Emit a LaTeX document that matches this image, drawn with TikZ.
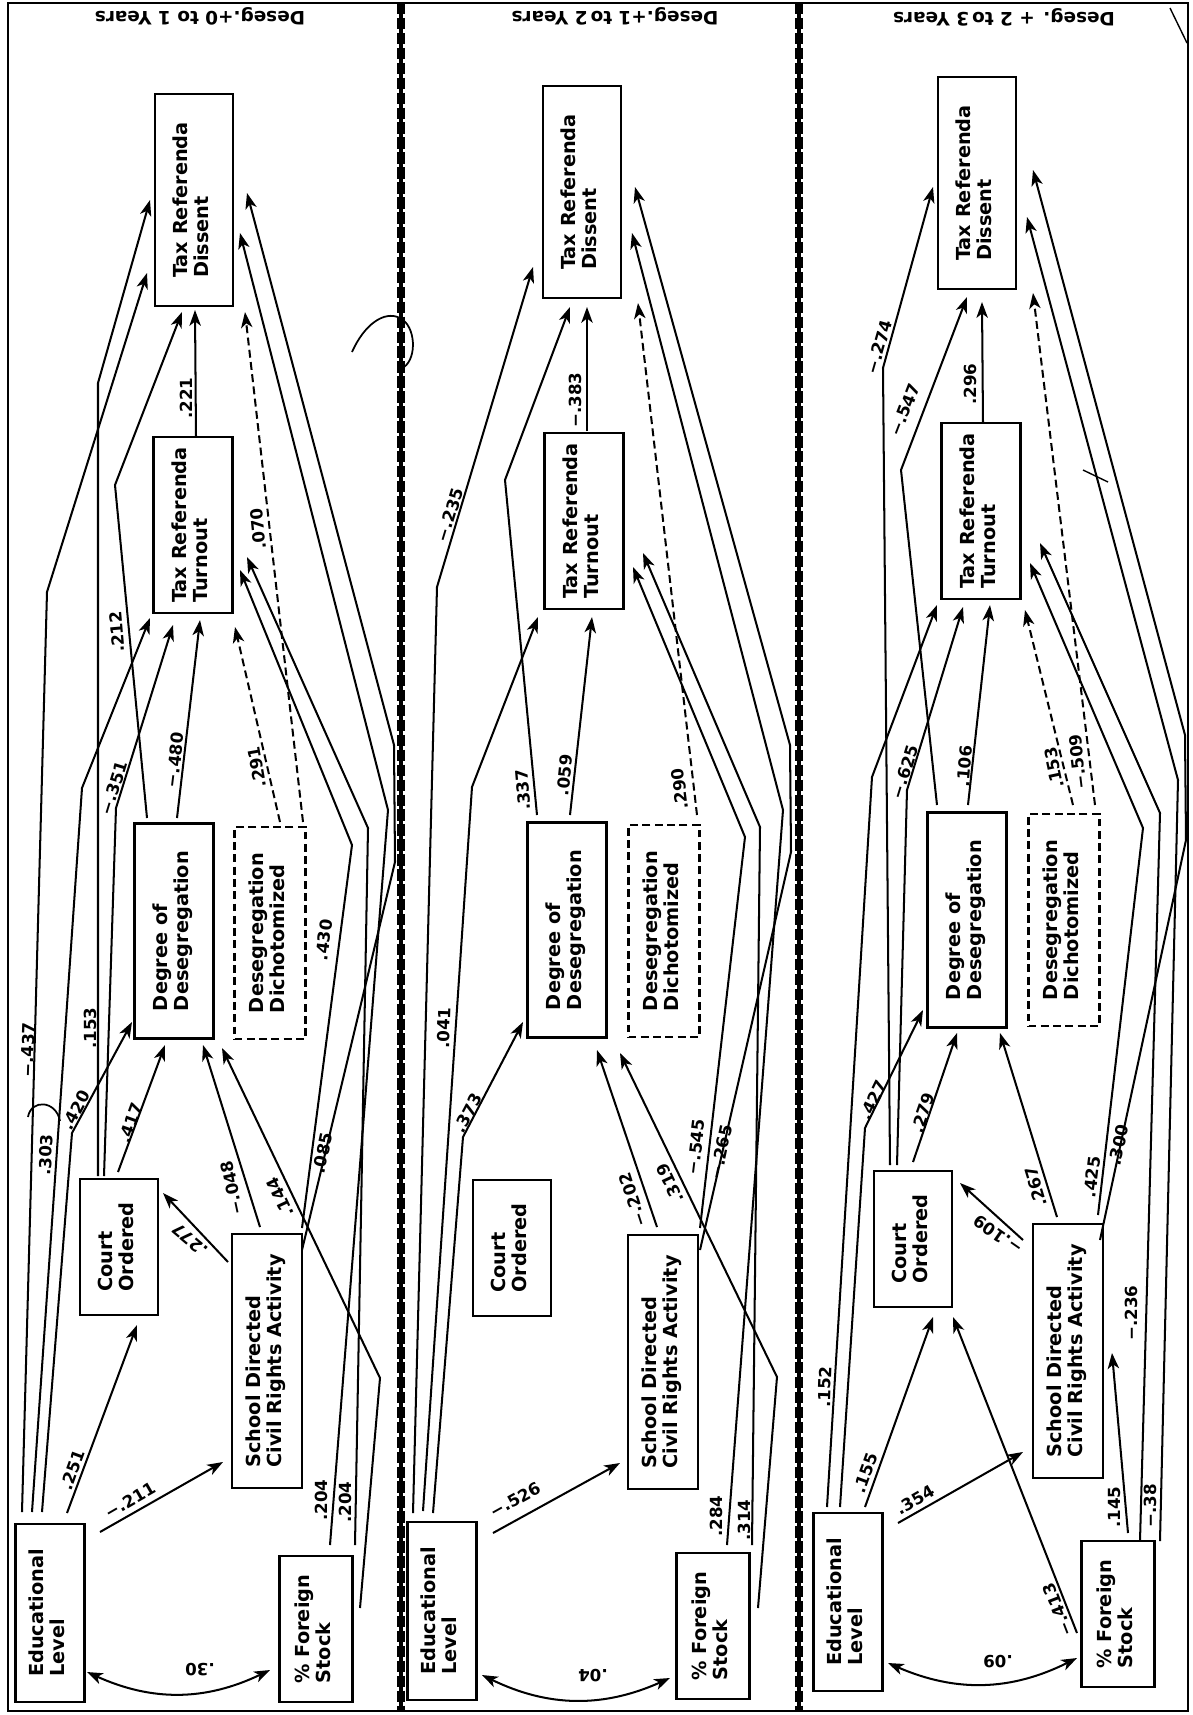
\documentclass[tikz,border=0pt]{standalone}
\usepackage{fontspec}
\setmainfont{DejaVu Sans}
\usepackage{graphicx}
\usepackage{tikz}
\usetikzlibrary{arrows.meta,calc}

\newcommand{\vtext}[1]{\rotatebox{90}{\begin{tabular}{@{}l@{}}#1\end{tabular}}}

\begin{document}
\begin{tikzpicture}[x=0.02cm, y=-0.02cm,
  box/.style={draw, line width=1.5pt, inner sep=0pt, font=\bfseries\fontsize{11}{12}\selectfont},
  dbox/.style={box, line width=1.2pt, dash pattern=on 4.5pt off 2.5pt},
  dissbox/.style={box, minimum width=1.56cm, minimum height=4.24cm},
  turnbox/.style={box, minimum width=1.58cm, minimum height=3.52cm},
  degbox/.style={box, minimum width=1.58cm, minimum height=4.3cm},
  dichbox/.style={dbox, minimum width=1.42cm, minimum height=4.24cm},
  courtbox/.style={box, minimum width=1.56cm, minimum height=2.72cm},
  schbox/.style={box, minimum width=1.4cm, minimum height=5.08cm},
  edubox/.style={box, minimum width=1.38cm, minimum height=3.56cm},
  fsbox/.style={box, minimum width=1.46cm, minimum height=2.92cm},
  arr/.style={-{Stealth[length=9pt,width=6.5pt,inset=2.5pt]}, line width=1.15pt},
  darr/.style={arr, dash pattern=on 4.5pt off 2.5pt},
  corr/.style={{Stealth[length=9pt,width=6.5pt,inset=2.5pt]}-{Stealth[length=9pt,width=6.5pt,inset=2.5pt]}, line width=1.15pt},
  coef/.style={font=\bfseries\fontsize{9.5}{11}\selectfont, inner sep=0.3pt},
  ttl/.style={font=\bfseries\fontsize{10.5}{12}\selectfont, rotate=180, inner sep=0pt},
  film/.style={line width=5pt, dash pattern=on 6.5pt off 2pt},
  panelframe/.style={line width=1pt}
]
\useasboundingbox (0,0) rectangle (1193,1715);
\draw[panelframe] (8,3) rectangle (1188,1711);
\draw[line width=2pt] (401,3) -- (401,1711);
\draw[film] (401,3) -- (401,1711);
\draw[line width=2pt] (799,3) -- (799,1711);
\draw[film] (799,3) -- (799,1711);

\node[ttl] (t1) at (200,16) {Deseg.+0 to 1 Years};
\node[ttl] (t2) at (615,16) {Deseg.+1 to\,2 Years};
\node[ttl] (t3) at (1004,17) {Deseg. + 2 to\,3 Years};

\node[dissbox] (dis1) at (194,200) {\vtext{Tax Referenda\\Dissent}};
\node[turnbox] (tur1) at (193,525) {\vtext{Tax Referenda\\Turnout}};
\node[degbox] (deg1) at (174,931) {\vtext{Degree of\\Desegregation}};
\node[dichbox] (dic1) at (270,933) {\vtext{Desegregation\\Dichotomized}};
\node[courtbox] (crt1) at (119,1247) {\vtext{Court\\Ordered}};
\node[schbox] (sch1) at (267,1361) {\vtext{School Directed\\Civil Rights Activity}};
\node[edubox] (edu1) at (50,1613) {\vtext{Educational\\Level}};
\node[fsbox] (frn1) at (316,1629) {\vtext{\% Foreign\\Stock}};

\draw[arr] ($(edu1)+(17,-100)$) -- ($(crt1)+(18,78)$);
\draw[arr] ($(edu1)+(50,-81)$) -- ($(sch1)+(-44,101)$);
\draw[corr] ($(edu1)+(37,59)$) to[bend right=25] ($(frn1)+(-46,41)$);
\draw[arr] ($(sch1)+(-39,-99)$) -- ($(crt1)+(44,-54)$);
\draw[arr] ($(sch1)+(-7,-134)$) -- ($(deg1)+(29,114)$);
\draw[arr] ($(crt1)+(-1,-75)$) -- ($(deg1)+(-9,114)$);
\draw[arr] ($(edu1)+(-8,-101)$) -- (72,1133) -- ($(deg1)+(-42,91)$);
\draw[arr] ($(edu1)+(-18,-101)$) -- (82,788) -- ($(tur1)+(-43,93)$);
\draw[arr] ($(edu1)+(-28,-101)$) -- (47,592) -- ($(dis1)+(-47,73)$);
\draw[arr] ($(crt1)+(-21,-71)$) -- (98,383) -- ($(dis1)+(-44,0)$);
\draw[arr] ($(crt1)+(-15,-71)$) -- (116,808) -- ($(tur1)+(-20,100)$);
\draw[arr] ($(deg1)+(3,-113)$) -- ($(tur1)+(7,95)$);
\draw[arr] ($(deg1)+(-27,-113)$) -- (115,485) -- ($(dis1)+(-12,112)$);
\draw[arr] ($(tur1)+(3,-88)$) -- ($(dis1)+(1,110)$);
\draw[darr] ($(dic1)+(10,-111)$) -- ($(tur1)+(42,102)$);
\draw[darr] ($(dic1)+(33,-111)$) -- ($(dis1)+(51,112)$);
\draw[arr] ($(sch1)+(35,-133)$) -- (352,845) -- ($(tur1)+(47,45)$);
\draw[arr] ($(frn1)+(39,-84)$) -- (368,828) -- ($(tur1)+(54,32)$);
\draw[arr] ($(frn1)+(14,-84)$) -- (388,810) -- ($(dis1)+(46,33)$);
\draw[arr] ($(sch1)+(35,-111)$) -- (395,862) -- (394,745) -- ($(dis1)+(53,-7)$);
\draw[arr] ($(frn1)+(44,-21)$) -- (380,1378) -- ($(deg1)+(48,117)$);

\node[coef, rotate=90] (p1a) at (186,398) {.221};
\node[coef, rotate=83] (p1b) at (175,760) {−.480};
\node[coef, rotate=100] (p1c) at (257,767) {.291};
\node[coef, rotate=96] (p1d) at (258,529) {.070};
\node[coef, rotate=73] (p1e) at (114,788) {−.351};
\node[coef, rotate=95] (p1f) at (117,632) {.212};
\node[coef, rotate=88] (p1g) at (28,1050) {−.437};
\node[coef, rotate=90] (p1h) at (90,1028) {.153};
\node[coef, rotate=87] (p1i) at (46,1155) {.303};
\node[coef, rotate=62] (p1j) at (76,1110) {.420};
\node[coef, rotate=70] (p1k) at (131,1123) {.417};
\node[coef, rotate=102] (p1l) at (232,1188) {−.048};
\node[coef, rotate=115] (p1m) at (280,1197) {.144};
\node[coef, rotate=83] (p1n) at (324,940) {.430};
\node[coef, rotate=78] (p1o) at (323,1153) {.085};
\node[coef, rotate=140] (p1p) at (190,1240) {.277};
\node[coef, rotate=70] (p1q) at (73,1470) {.251};
\node[coef, rotate=30] (p1r) at (130,1500) {−.211};
\node[coef, rotate=180] (p1s) at (200,1670) {.30};
\node[coef, rotate=90] (p1t) at (321,1500) {.204};
\node[coef, rotate=90] (p1u) at (345,1502) {.204};

\node[dissbox] (dis2) at (582,192) {\vtext{Tax Referenda\\Dissent}};
\node[turnbox] (tur2) at (584,521) {\vtext{Tax Referenda\\Turnout}};
\node[degbox] (deg2) at (567,930) {\vtext{Degree of\\Desegregation}};
\node[dichbox] (dic2) at (664,931) {\vtext{Desegregation\\Dichotomized}};
\node[courtbox] (crt2) at (512,1248) {\vtext{Court\\Ordered}};
\node[schbox] (sch2) at (663,1362) {\vtext{School Directed\\Civil Rights Activity}};
\node[edubox] (edu2) at (442,1611) {\vtext{Educational\\Level}};
\node[fsbox] (frn2) at (713,1626) {\vtext{\% Foreign\\Stock}};

\draw[arr] ($(tur2)+(3,-90)$) -- ($(dis2)+(5,115)$);
\draw[arr] ($(edu2)+(-29,-98)$) -- (437,587) -- ($(dis2)+(-49,75)$);
\draw[arr] ($(edu2)+(-19,-100)$) -- (472,787) -- ($(tur2)+(-46,96)$);
\draw[arr] ($(edu2)+(-9,-98)$) -- (463,1137) -- ($(deg2)+(-44,92)$);
\draw[arr] ($(deg2)+(-30,-115)$) -- (505,480) -- ($(dis2)+(-12,115)$);
\draw[arr] ($(deg2)+(3,-115)$) -- ($(tur2)+(8,96)$);
\draw[darr] ($(dic2)+(33,-116)$) -- ($(dis2)+(56,111)$);
\draw[arr] ($(sch2)+(-6,-135)$) -- ($(deg2)+(30,120)$);
\draw[arr] ($(frn2)+(45,-18)$) -- (777,1377) -- ($(deg2)+(53,123)$);
\draw[arr] ($(sch2)+(37,-134)$) -- (745,837) -- ($(tur2)+(49,46)$);
\draw[arr] ($(sch2)+(37,-112)$) -- (791,852) -- (790,745) -- ($(dis2)+(53,-5)$);
\draw[arr] ($(frn2)+(39,-81)$) -- (760,827) -- ($(tur2)+(59,32)$);
\draw[arr] ($(frn2)+(14,-81)$) -- (783,810) -- ($(dis2)+(50,41)$);
\draw[arr] ($(edu2)+(51,-78)$) -- ($(sch2)+(-43,101)$);
\draw[corr] ($(edu2)+(40,64)$) to[bend right=25] ($(frn2)+(-43,52)$);

\node[coef, rotate=90] (p2a) at (575,400) {−.383};
\node[coef, rotate=73] (p2b) at (450,515) {−.235};
\node[coef, rotate=88] (p2c) at (444,1028) {.041};
\node[coef, rotate=62] (p2d) at (468,1113) {.373};
\node[coef, rotate=95] (p2e) at (523,790) {.337};
\node[coef, rotate=84] (p2f) at (565,775) {.059};
\node[coef, rotate=97] (p2g) at (680,789) {.290};
\node[coef, rotate=108] (p2h) at (633,1200) {−.202};
\node[coef, rotate=115] (p2i) at (670,1183) {.319};
\node[coef, rotate=83] (p2j) at (696,1147) {−.545};
\node[coef, rotate=78] (p2k) at (721,1152) {−.265};
\node[coef, rotate=90] (p2l) at (716,1516) {.284};
\node[coef, rotate=90] (p2m) at (744,1520) {.314};
\node[coef, rotate=29] (p2n) at (515,1500) {−.526};
\node[coef, rotate=180] (p2o) at (593,1676) {.04};

\node[dissbox] (dis3) at (977,183) {\vtext{Tax Referenda\\Dissent}};
\node[turnbox] (tur3) at (981,511) {\vtext{Tax Referenda\\Turnout}};
\node[degbox] (deg3) at (967,920) {\vtext{Degree of\\Desegregation}};
\node[dichbox] (dic3) at (1064,920) {\vtext{Desegregation\\Dichotomized}};
\node[courtbox] (crt3) at (913,1239) {\vtext{Court\\Ordered}};
\node[schbox] (sch3) at (1068,1351) {\vtext{School Directed\\Civil Rights Activity}};
\node[edubox] (edu3) at (848,1602) {\vtext{Educational\\Level}};
\node[fsbox] (frn3) at (1118,1614) {\vtext{\% Foreign\\Stock}};

\draw[arr] ($(tur3)+(2,-88)$) -- ($(dis3)+(5,119)$);
\draw[arr] ($(crt3)+(-23,-74)$) -- (883,368) -- ($(dis3)+(-44,4)$);
\draw[arr] ($(crt3)+(-16,-74)$) -- (907,790) -- ($(tur3)+(-18,96)$);
\draw[arr] ($(deg3)+(-30,-115)$) -- (901,470) -- ($(dis3)+(-10,114)$);
\draw[arr] ($(deg3)+(1,-115)$) -- ($(tur3)+(9,94)$);
\draw[arr] ($(edu3)+(-21,-95)$) -- (872,777) -- ($(tur3)+(-44,94)$);
\draw[arr] ($(edu3)+(-8,-95)$) -- (865,1128) -- ($(deg3)+(-44,90)$);
\draw[darr] ($(dic3)+(9,-115)$) -- ($(tur3)+(44,99)$);
\draw[darr] ($(dic3)+(31,-115)$) -- ($(dis3)+(56,110)$);
\draw[arr] ($(sch3)+(30,-136)$) -- (1143,828) -- ($(tur3)+(49,52)$);
\draw[arr] ($(sch3)+(32,-111)$) -- (1186,840) -- (1185,735) -- ($(dis3)+(56,-13)$);
\draw[arr] ($(frn3)+(22,-73)$) -- (1160,813) -- ($(tur3)+(59,32)$);
\draw[arr] ($(frn3)+(42,-73)$) -- (1178,780) -- ($(dis3)+(50,34)$);
\draw[arr] ($(sch3)+(-11,-134)$) -- ($(deg3)+(33,113)$);
\draw[arr] ($(sch3)+(-45,-111)$) -- ($(crt3)+(47,-56)$);
\draw[arr] ($(crt3)+(0,-77)$) -- ($(deg3)+(-10,113)$);
\draw[arr] ($(edu3)+(17,-95)$) -- ($(crt3)+(20,78)$);
\draw[arr] ($(edu3)+(50,-79)$) -- ($(sch3)+(-45,101)$);
\draw[arr] ($(frn3)+(-41,19)$) -- ($(crt3)+(40,78)$);
\draw[arr] ($(frn3)+(10,-81)$) -- ($(sch3)+(44,2)$);
\draw[corr] ($(edu3)+(40,61)$) to[bend right=25] ($(frn3)+(-41,44)$);

\node[coef, rotate=90] (p3a) at (970,384) {.296};
\node[coef, rotate=74] (p3b) at (879,347) {−.274};
\node[coef, rotate=69] (p3c) at (905,410) {−.547};
\node[coef, rotate=73] (p3d) at (905,772) {−.625};
\node[coef, rotate=85] (p3e) at (965,766) {.106};
\node[coef, rotate=102] (p3f) at (1054,768) {.153};
\node[coef, rotate=97] (p3g) at (1078,762) {−.509};
\node[coef, rotate=88] (p3h) at (825,1387) {.152};
\node[coef, rotate=64] (p3i) at (873,1100) {.427};
\node[coef, rotate=71] (p3j) at (923,1113) {.279};
\node[coef, rotate=107] (p3k) at (1036,1187) {.267};
\node[coef, rotate=145] (p3l) at (998,1235) {−.109};
\node[coef, rotate=70] (p3m) at (866,1473) {.155};
\node[coef, rotate=30] (p3n) at (915,1500) {.354};
\node[coef, rotate=111] (p3o) at (1058,1610) {−.413};
\node[coef, rotate=90] (p3p) at (1115,1507) {.145};
\node[coef, rotate=90] (p3q) at (1150,1506) {−.38};
\node[coef, rotate=90] (p3r) at (1131,1313) {−.236};
\node[coef, rotate=83] (p3s) at (1092,1177) {.425};
\node[coef, rotate=78] (p3t) at (1119,1145) {.300};
\node[coef, rotate=180] (p3u) at (998,1662) {.09};

\draw[line width=1pt] (352,352) .. controls (364,325) and (384,310) .. (400,318) .. controls (416,326) and (417,358) .. (404,367);
\draw[line width=1pt] (28,1117) .. controls (31,1099) and (56,1100) .. (60,1121);
\draw[line width=0.8pt] (1170,8) -- (1187,43);
\draw[line width=0.8pt] (1083,470) -- (1108,482);
\end{tikzpicture}
\end{document}
